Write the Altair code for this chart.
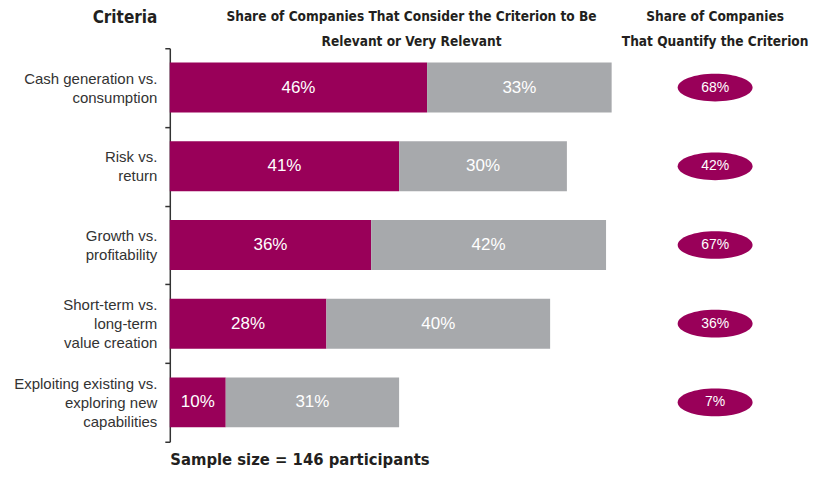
import altair as alt
import pandas as pd

criteria = [
    "Cash generation vs.|consumption",
    "Risk vs.|return",
    "Growth vs.|profitability",
    "Short-term vs.|long-term|value creation",
    "Exploiting existing vs.|exploring new|capabilities",
]
very_relevant = [46, 41, 36, 28, 10]
relevant = [33, 30, 42, 40, 31]
quantify = [68, 42, 67, 36, 7]

left_header = ["Share of Companies That Consider the Criterion to Be", "Relevant or Very Relevant"]
right_header = ["Share of Companies", "That Quantify the Criterion"]

PURPLE = "#990059"
GRAY = "#A7A9AC"
TXT = "#231f20"
FONT = "Liberation Sans"
BFONT = "Liberation Sans Narrow, DejaVu Sans Condensed, Liberation Sans"
HFS = 13.6

rows = []
for c, a, b in zip(criteria, very_relevant, relevant):
    rows.append({"cat": c, "series": "Very relevant", "order": 0, "value": a})
    rows.append({"cat": c, "series": "Relevant", "order": 1, "value": b})
long_df = pd.DataFrame(rows)
q_df = pd.DataFrame({"cat": criteria, "q": quantify})
one = pd.DataFrame({"k": [0]})

yscale = alt.Scale(paddingInner=0, paddingOuter=0)
W, H = 448, 394

base = alt.Chart(long_df).transform_stack(
    stack="value", groupby=["cat"], sort=[alt.SortField("order")], as_=["x0", "x1"]
).transform_calculate(mid="(datum.x0 + datum.x1) / 2", lab="datum.value + '%'")

y_left = alt.Y(
    "cat:N", sort=criteria, scale=yscale,
    axis=alt.Axis(
        title="Criteria", titleAngle=0, titleAlign="right", titleBaseline="middle",
        titleX=-13, titleY=-31, titleFontSize=17, titleFont=BFONT,
        titleFontWeight="bold", titleColor=TXT,
        labelExpr="split(datum.label, '|')", labelFontSize=15, labelFont=FONT,
        labelColor="#333333", labelLineHeight=19, labelPadding=8, labelLimit=300,
        labelOffset={"condition": {"test": "length(split(datum.value, '|')) > 2", "value": -19}, "value": -9.5},
        tickBand="extent", tickSize=5, tickColor="#333333", tickWidth=1.5,
        domainColor="#333333", domainWidth=1.5, grid=False,
    ),
)

x_left = alt.X(
    "x0:Q", scale=alt.Scale(domain=[0, 80], nice=False),
    axis=alt.Axis(
        title="Sample size = 146 participants", labels=False, ticks=False,
        domain=False, grid=False, titleAnchor="start", titleFontSize=16.5,
        titleFont=BFONT, titleFontWeight="bold", titleColor=TXT, titlePadding=10,
    ),
)

bars = base.mark_bar(size=50).encode(
    y=y_left, x=x_left, x2="x1:Q",
    color=alt.Color("series:N", scale=alt.Scale(domain=["Very relevant", "Relevant"], range=[PURPLE, GRAY]), legend=None),
)
labels = base.mark_text(color="white", fontSize=17, font=FONT).encode(
    y=alt.Y("cat:N", sort=criteria), x=alt.X("mid:Q"), text="lab:N"
)
lhead = alt.Chart(one).mark_text(
    text=left_header, font=BFONT, fontSize=HFS, fontWeight="bold", color=TXT,
    align="center", baseline="top", lineHeight=25,
).encode(x=alt.value(W / 2 + 18), y=alt.value(-38))

left = alt.layer(bars, labels, lhead).properties(width=W, height=H)

ELLIPSE = "M-1,0A1,0.37,0,1,0,1,0A1,0.37,0,1,0,-1,0Z"
RW = 188
rbase = alt.Chart(q_df).transform_calculate(lab="datum.q + '%'").encode(
    y=alt.Y("cat:N", sort=criteria, scale=yscale, axis=None)
)
ell = rbase.mark_point(shape=ELLIPSE, size=5625, filled=True, color=PURPLE, opacity=1, strokeWidth=0)
etxt = rbase.mark_text(color="white", fontSize=14, font=FONT).encode(text="lab:N")
rhead = alt.Chart(one).mark_text(
    text=right_header, font=BFONT, fontSize=HFS, fontWeight="bold", color=TXT,
    align="center", baseline="top", lineHeight=25,
).encode(x=alt.value(RW / 2), y=alt.value(-38))
right = alt.layer(ell, etxt, rhead).properties(width=RW, height=H)

chart = alt.hconcat(left, right, spacing=4).configure_view(stroke=None).properties(
    padding={"left": 5, "top": 0, "right": 0, "bottom": 0}
)
chart.save("out.html", embed_options={"renderer": "svg", "actions": False})
